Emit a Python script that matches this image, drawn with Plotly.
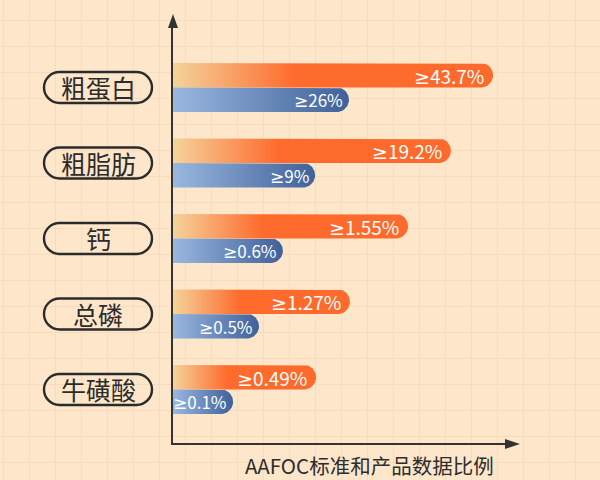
import numpy as np
import plotly.graph_objects as go

# categories (top to bottom)
categories = ['粗蛋白', '粗脂肪', '钙', '总磷', '牛磺酸']

# orange = product data, blue = AAFCO standard
product_labels = ['≥43.7%', '≥19.2%', '≥1.55%', '≥1.27%', '≥0.49%']
standard_labels = ['≥26%', '≥9%', '≥0.6%', '≥0.5%', '≥0.1%']

# bar lengths as drawn (the x axis has no scale, 0-100)
product_len = [96.4, 83.7, 70.8, 53.3, 43.1]
standard_len = [53.0, 42.8, 33.1, 25.9, 18.1]

W, H = 600, 480
x_dom = [173 / W, 505 / W]
y_dom = [37 / H, 452 / H]
x_rng = [0, 100]
y_rng = [4.709, -0.788]
bar_h = 0.3245

px_x = (x_dom[1] - x_dom[0]) * W / (x_rng[1] - x_rng[0])
px_y = (y_dom[1] - y_dom[0]) * H / abs(y_rng[0] - y_rng[1])

orange_scale = [[0, '#f4d39b'], [0.38, '#fe6b2d'], [1, '#fe6a2b']]
blue_scale = [[0, '#9ab7df'], [1, '#3f619a']]


def pill_bar(length, y0, y1):
    # rect with a rounded right end
    r_px = abs(y1 - y0) * px_y / 2
    rx = r_px / px_x
    ry = (y1 - y0) / 2
    yc = (y0 + y1) / 2
    t = np.linspace(-np.pi / 2, np.pi / 2, 30)
    xs = [0] + list(length - rx + rx * np.cos(t)) + [0]
    ys = [y0] + list(yc + ry * np.sin(t)) + [y1]
    return xs, ys


def val_text(s):
    # CJK font draws a slanted ≥, so take that one glyph from DejaVu
    if s.startswith('≥'):
        return '<span style="font-family:DejaVu Sans">≥</span>' + s[1:]
    return s


fig = go.Figure()

# background grid subplot
fig.add_trace(go.Scatter(x=[0], y=[0], mode='markers', marker=dict(opacity=0),
                         hoverinfo='skip', showlegend=False, xaxis='x', yaxis='y'))

annos = []
for i, cat in enumerate(categories):
    xs, ys = pill_bar(product_len[i], i - bar_h, i)
    fig.add_trace(go.Scatter(x=xs, y=ys, fill='toself', mode='lines', line=dict(width=0),
                             fillgradient=dict(type='horizontal', colorscale=orange_scale),
                             hoverinfo='skip', showlegend=False, xaxis='x2', yaxis='y2'))
    xs, ys = pill_bar(standard_len[i], i, i + bar_h)
    fig.add_trace(go.Scatter(x=xs, y=ys, fill='toself', mode='lines', line=dict(width=0),
                             fillgradient=dict(type='horizontal', colorscale=blue_scale),
                             hoverinfo='skip', showlegend=False, xaxis='x2', yaxis='y2'))

    annos.append(dict(x=product_len[i], y=i - bar_h / 2, xref='x2', yref='y2',
                      text=val_text(product_labels[i]), showarrow=False, xanchor='right',
                      xshift=-7, font=dict(size=19, color='white')))
    annos.append(dict(x=standard_len[i], y=i + bar_h / 2, xref='x2', yref='y2',
                      text=val_text(standard_labels[i]), showarrow=False, xanchor='right',
                      xshift=-4, font=dict(size=17, color='white')))
    # category label in a pill outline
    annos.append(dict(x=98 / W, y=i, xref='paper', yref='y2', text=cat, showarrow=False,
                      xanchor='center', yanchor='middle',
                      font=dict(size=25, color='#2b2b2b')))

annos.append(dict(x=369 / W, y=(H - 465) / H, xref='paper', yref='paper',
                  text='AAFOC标准和产品数据比例', showarrow=False,
                  xanchor='center', yanchor='middle',
                  font=dict(size=20.5, color='#2d2d2d')))

# pill outlines
hw, r = 54, 15.5
a = hw - r
k = 0.5523 * r
pill_path = (f'M{a},{-r} C{a + k},{-r} {a + r},{-k} {a + r},0 '
             f'C{a + r},{k} {a + k},{r} {a},{r} L{-a},{r} '
             f'C{-a - k},{r} {-a - r},{k} {-a - r},0 '
             f'C{-a - r},{-k} {-a - k},{-r} {-a},{-r} Z')
shapes = []
for i in range(len(categories)):
    shapes.append(dict(type='path', xref='paper', yref='y2', xsizemode='pixel',
                       ysizemode='pixel', xanchor=98 / W, yanchor=i, path=pill_path,
                       line=dict(color='#2b2b2b', width=2.4)))

# arrow heads
shapes.append(dict(type='path', xref='paper', yref='paper', xsizemode='pixel', ysizemode='pixel',
                   xanchor=173 / W, yanchor=(H - 28) / H, path='M-5,0 L5,0 L0,14 Z',
                   fillcolor='#333333', line=dict(width=0)))
shapes.append(dict(type='path', xref='paper', yref='paper', xsizemode='pixel', ysizemode='pixel',
                   xanchor=505 / W, yanchor=(H - 444) / H, path='M0,-5 L0,5 L15,0 Z',
                   fillcolor='#333333', line=dict(width=0)))

fig.update_layout(
    width=W, height=H,
    margin=dict(l=0, r=0, t=0, b=0),
    paper_bgcolor='#fde6ca',
    plot_bgcolor='rgba(0,0,0,0)',
    font=dict(family='Noto Sans CJK SC'),
    showlegend=False,
    xaxis=dict(domain=[0, 1], range=[0, W], tick0=3, dtick=26, showgrid=True,
               gridcolor='#f9dabb', gridwidth=1, showticklabels=False, zeroline=False,
               ticks='', fixedrange=True),
    yaxis=dict(domain=[0, 1], range=[0, H], tick0=18, dtick=26, showgrid=True,
               gridcolor='#f9dabb', gridwidth=1, showticklabels=False, zeroline=False,
               ticks='', fixedrange=True),
    xaxis2=dict(domain=x_dom, range=x_rng, anchor='y2', showgrid=False, zeroline=False,
                showticklabels=False, ticks='', showline=True, linecolor='#333333',
                linewidth=1.6, fixedrange=True),
    yaxis2=dict(domain=y_dom, range=y_rng, anchor='x2', showgrid=False, zeroline=False,
                showticklabels=False, ticks='', showline=True, linecolor='#333333',
                linewidth=1.6, fixedrange=True),
    annotations=annos,
    shapes=shapes,
)

fig.write_html('out.html', config={'displayModeBar': False},
               post_script="document.body.style.margin = '0';")
